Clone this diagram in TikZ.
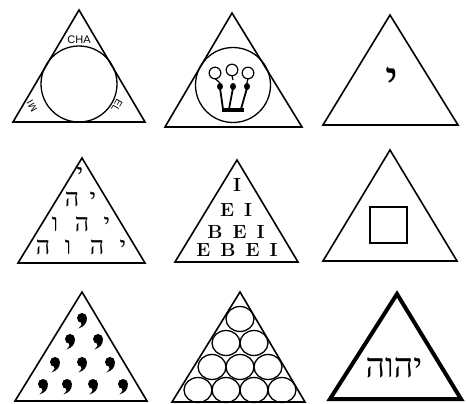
\documentclass[tikz,border=0pt]{standalone}
\usepackage{fontspec}
\setsansfont{Liberation Sans}
\newfontfamily\hebfont[Script=Hebrew]{Liberation Serif}
\TeXXeTstate=1
\newcommand\widespace{\spaceskip 10pt\relax}
\tikzset{
    tri/.style={draw,line width=1.6pt,line join=miter},
    thicktri/.style={draw,line width=4pt,line join=miter},
    ring/.style={draw,line width=1.3pt},
    syllable/.style={font=\sffamily\fontsize{11}{11}\selectfont,inner sep=0pt},
    heb/.style={font=\hebfont\fontsize{25}{25}\selectfont,inner sep=0pt,anchor=base},
    rows/.style={font={\fontsize{19}{19}\selectfont\bfseries\widespace},inner sep=0pt,anchor=base},
    drop/.pic={
        \fill (0,0) circle (5pt);
        \fill (4.8,0) .. controls (5.2,5.5) and (2,8.5) .. (-3.5,10.5)
              .. controls (-0.5,7.5) and (0.5,5.5) .. (-1,4.8) -- cycle;
    }
}
\begin{document}
\begin{tikzpicture}[x=1pt,y=-1pt]
    \useasboundingbox (0,0) rectangle (466,404);

    % top row
    \draw[tri] (79,10) -- (145,122) -- (13,122) -- cycle;
    \draw[ring] (79,84) circle (38pt);
    \node[syllable] (cha) at (79,40) {CHA};
    \node[syllable,font=\sffamily\fontsize{10}{10}\selectfont,rotate=120] (mi) at (32,106) {MI};
    \node[syllable,font=\sffamily\fontsize{10}{10}\selectfont,rotate=-120] (el) at (117,106) {EL};

    \draw[tri] (232,13) -- (302,127) -- (165,127) -- cycle;
    \draw[ring] (233,85) circle (37.5pt);
    \foreach \x/\y/\bx/\ex in {215/73/220/223, 232/70/233/229, 248/73/247/241} {
        \draw[line width=1.2pt] (\x,\y) circle (5.8pt);
        \draw[line width=1.2pt] (\x,\y+5.5) -- (\bx,\y+10);
        \fill (\bx,86.5) ellipse [x radius=3pt,y radius=3.5pt];
        \draw[line width=1.8pt] (\bx,88) -- (\ex,109);
    }
    \draw[line width=3.5pt] (222,110) -- (244,110);

    \draw[tri] (390,15) -- (458,125) -- (323,125) -- cycle;
    \node[heb,anchor=center,font=\hebfont\fontsize{50}{50}\selectfont] (yod) at (392,82) {י};

    % middle row
    \draw[tri] (82,158) -- (145,263) -- (18,263) -- cycle;
    \node[heb] (a1) at (80,181) {י};
    \node[heb] (b1) at (72,206) {ה};
    \node[heb] (b2) at (93,206) {י};
    \node[heb] (c1) at (55,231) {ו};
    \node[heb] (c2) at (82,231) {ה};
    \node[heb] (c3) at (107,231) {י};
    \node[heb] (d1) at (43,254) {ה};
    \node[heb] (d2) at (68,254) {ו};
    \node[heb] (d3) at (97,254) {ה};
    \node[heb] (d4) at (123,254) {י};

    \draw[tri] (237,160) -- (298,262) -- (175,262) -- cycle;
    \node[rows] (r1) at (237,191.5) {I};
    \node[rows] (r2) at (236,216.5) {E I};
    \node[rows] (r3) at (236,238.5) {B E I};
    \node[rows] (r4) at (237,256.5) {E B E I};

    \draw[tri] (390,150) -- (457,261) -- (323,261) -- cycle;
    \draw[line width=1.6pt] (370,207) rectangle (407,243);

    % bottom row
    \draw[tri] (82,292) -- (147,401) -- (15,401) -- cycle;
    \foreach \x/\y in {82/318, 70/339, 98/339, 55/362, 82/362, 110/362,
                       43/384, 67/384, 93/384, 123/384}
        \pic at (\x,\y) {drop};

    \draw[tri] (240,292) -- (305,402) -- (172,402) -- cycle;
    \foreach \x/\y in {240/319, 226/343, 254/343, 212/367, 240/367, 268/367,
                       198/390, 226/390, 254/390, 282/390}
        \draw[ring] (\x,\y) ellipse [x radius=14pt,y radius=12.5pt];

    \draw[thicktri] (397,294) -- (461,399) -- (330,399) -- cycle;
    \node[heb,anchor=center,font=\hebfont\fontsize{34}{34}\selectfont] (name) at (394,368) {\beginR יהוה\endR};
\end{tikzpicture}
\end{document}
